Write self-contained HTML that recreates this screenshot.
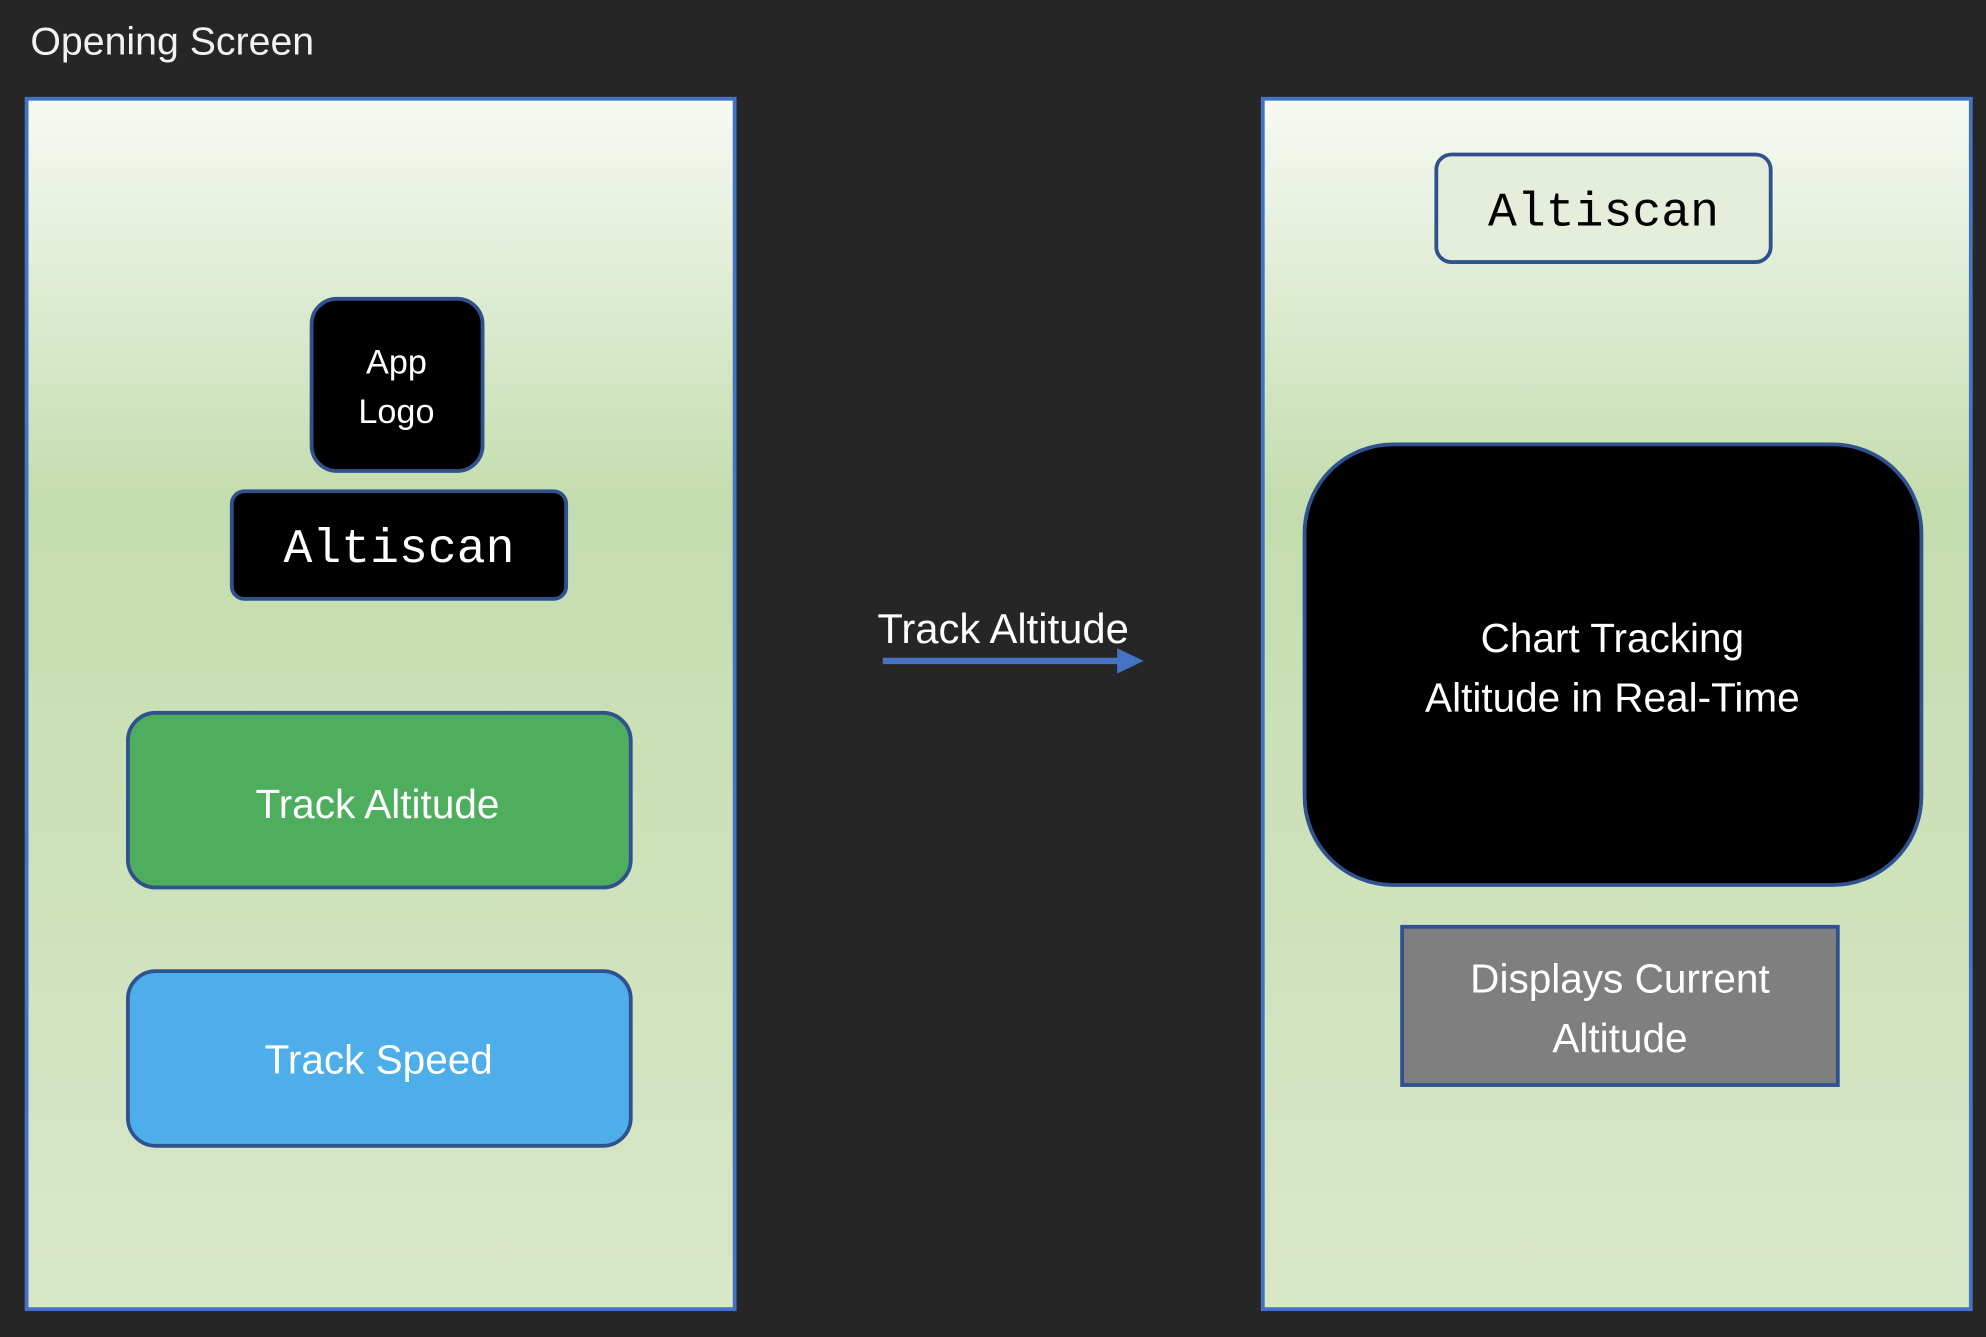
<!DOCTYPE html>
<html><head><meta charset="utf-8"><style>
html,body{margin:0;padding:0;background:#262626;}
svg{display:block;}
text{font-family:"Liberation Sans",sans-serif;}
.m{font-family:"Liberation Mono",monospace;}
</style></head><body>
<svg width="1986" height="1337" viewBox="0 0 1568 1056" preserveAspectRatio="none" xmlns="http://www.w3.org/2000/svg">
<defs>
<linearGradient id="g" x1="0" y1="0" x2="0" y2="1">
<stop offset="0" stop-color="#f7faf4"/>
<stop offset="0.33" stop-color="#c4ddaf"/>
<stop offset="1" stop-color="#d9e7c9"/>
</linearGradient>
</defs>
<rect width="1568" height="1056" fill="#262626"/>
<text x="24" y="43" font-size="31" fill="#f2f2f2">Opening Screen</text>
<rect x="21" y="78" width="559" height="956" fill="url(#g)" stroke="#4472c4" stroke-width="3"/>
<rect x="997" y="78" width="559" height="956" fill="url(#g)" stroke="#4472c4" stroke-width="3"/>
<rect x="246" y="236" width="135" height="136" rx="20" fill="#000" stroke="#2f528f" stroke-width="3"/>
<text x="313" y="295" font-size="27" fill="#fff" text-anchor="middle">App</text>
<text x="313" y="334" font-size="27" fill="#fff" text-anchor="middle">Logo</text>
<rect x="183" y="388" width="264" height="85" rx="10" fill="#000" stroke="#2f528f" stroke-width="3"/>
<text class="m" x="315" y="444" font-size="38" fill="#fff" text-anchor="middle">Altiscan</text>
<rect x="101" y="563" width="397" height="138" rx="22" fill="#4fad5e" stroke="#2f528f" stroke-width="3"/>
<text x="298" y="646" font-size="32" fill="#fff" text-anchor="middle">Track Altitude</text>
<rect x="101" y="767" width="397" height="138" rx="22" fill="#4eaeea" stroke="#2f528f" stroke-width="3"/>
<text x="299" y="848" font-size="32" fill="#fff" text-anchor="middle">Track Speed</text>
<text x="792" y="508" font-size="33" fill="#fff" text-anchor="middle">Track Altitude</text>
<line x1="697" y1="522" x2="884" y2="522" stroke="#4472c4" stroke-width="5"/>
<polygon points="882,512 903,522 882,532" fill="#4472c4"/>
<rect x="1134" y="122" width="264" height="85" rx="12" fill="#e4eedb" stroke="#2f528f" stroke-width="3"/>
<text class="m" x="1266" y="178" font-size="38" fill="#000" text-anchor="middle">Altiscan</text>
<rect x="1030" y="351" width="487" height="348" rx="70" fill="#000" stroke="#2f528f" stroke-width="3"/>
<text x="1273" y="515" font-size="32" fill="#fff" text-anchor="middle">Chart Tracking</text>
<text x="1273" y="562" font-size="32" fill="#fff" text-anchor="middle">Altitude in Real-Time</text>
<rect x="1107" y="732" width="344" height="125" fill="#7f7f7f" stroke="#2f528f" stroke-width="3"/>
<text x="1279" y="784" font-size="32" fill="#fff" text-anchor="middle">Displays Current</text>
<text x="1279" y="831" font-size="32" fill="#fff" text-anchor="middle">Altitude</text>
</svg>
</body></html>
